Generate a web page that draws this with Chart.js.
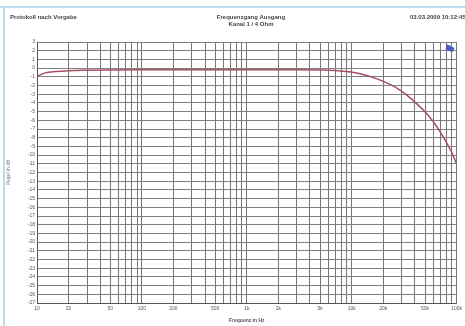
<!DOCTYPE html>
<html>
<head>
<meta charset="utf-8">
<script src="https://cdn.jsdelivr.net/npm/chart.js@4"></script>
<style>
html,body{margin:0;padding:0;background:#fff;}
#wrap{position:relative;width:465px;height:326px;overflow:hidden;background:#fff;}
#frameTop{position:absolute;left:0;top:6px;width:465px;height:2px;background:#bcdcee;}
#frameLeft{position:absolute;left:3px;top:6px;width:2px;height:320px;background:#bcdcee;}
canvas{position:absolute;left:0;top:0;}
</style>
</head>
<body>
<div id="wrap">
<canvas id="c" width="465" height="326"></canvas>
<div id="frameTop"></div><div id="frameLeft"></div>
</div>
<script>
// ---- data ----
const headerLeft = "Protokoll nach Vorgabe";
const headerTitle = ["Frequenzgang Ausgang", "Kanal 1 / 4 Ohm"];
const headerRight = "03.03.2009 10:12:45";
const xTitle = "Frequenz in Hz";
const yTitle = "Pegel in dB";
const freqHz = [10, 12, 15, 20, 30, 50, 100, 300, 1000, 3000, 6000, 9800, 12600, 18500, 27000, 38000, 56000, 73000, 90000, 100000];
const levelDb = [-0.95, -0.55, -0.4, -0.3, -0.25, -0.22, -0.2, -0.2, -0.2, -0.2, -0.25, -0.45, -0.7, -1.35, -2.3, -3.65, -5.7, -7.7, -9.7, -11.0];
const xLabelValues = [10, 20, 50, 100, 200, 500, 1000, 2000, 5000, 10000, 20000, 50000, 100000];
const xMin = 10, xMax = 100000;
const yMin = -27, yMax = 3, yStep = 1;

const points = freqHz.map((f, i) => ({x: f, y: levelDb[i]}));
function fmtHz(v) {
  if (v >= 1000) return (v / 1000) + "k";
  return String(v);
}

const headerPlugin = {
  id: 'header',
  afterDraw(chart) {
    const ctx = chart.ctx;
    ctx.save();
    ctx.fillStyle = '#444';
    ctx.font = 'bold 6px "Liberation Sans", Arial, sans-serif';
    ctx.textBaseline = 'middle';
    ctx.textAlign = 'left';
    ctx.fillText(headerLeft, 10, 17);
    ctx.textAlign = 'center';
    ctx.fillText(headerTitle[0], 251, 17);
    ctx.fillText(headerTitle[1], 251, 24);
    ctx.textAlign = 'left';
    ctx.fillText(headerRight, 410, 17);
    // logo in the plot corner
    const a = chart.chartArea;
    ctx.fillStyle = '#4b5fb5';
    ctx.beginPath();
    ctx.moveTo(a.right - 10, a.top + 2);
    ctx.lineTo(a.right - 2, a.top + 6);
    ctx.lineTo(a.right - 4, a.top + 10);
    ctx.lineTo(a.right - 11, a.top + 8);
    ctx.closePath();
    ctx.fill();
    ctx.restore();
  }
};

new Chart(document.getElementById('c'), {
  type: 'line',
  data: {
    datasets: [{
      data: points,
      borderColor: '#a4505f',
      borderWidth: 1.5,
      pointRadius: 0,
      tension: 0.4,
      cubicInterpolationMode: 'monotone',
      fill: false
    }]
  },
  options: {
    responsive: false,
    animation: false,
    devicePixelRatio: 1,
    layout: {padding: {left: 6, top: 42, right: 8, bottom: 0}},
    plugins: {legend: {display: false}, tooltip: {enabled: false}},
    scales: {
      x: {
        type: 'logarithmic',
        min: xMin, max: xMax,
        afterBuildTicks(s) {
          const t = [];
          for (let d = xMin; d < xMax; d *= 10) {
            for (let m = 1; m < 10; m++) t.push({value: d * m});
          }
          t.push({value: xMax});
          s.ticks = t;
        },
        afterFit(s) { s.height = 23; },
        grid: {color: '#767676', lineWidth: 1, drawTicks: false},
        border: {color: '#555', width: 1},
        ticks: {
          autoSkip: false, maxRotation: 0, padding: 3,
          font: {size: 5, family: 'Liberation Sans'}, color: '#555',
          callback(v) { return xLabelValues.includes(v) ? fmtHz(v) : ''; }
        },
        title: {display: true, text: xTitle, font: {size: 5, family: 'Liberation Sans', weight: 'bold'}, color: '#555', padding: {top: 0, bottom: 2}}
      },
      y: {
        min: yMin, max: yMax,
        afterBuildTicks(s) {
          const t = [];
          for (let v = yMin; v <= yMax; v += yStep) t.push({value: v});
          s.ticks = t;
        },
        afterFit(s) { s.width = 31; },
        grid: {color: '#808080', lineWidth: 1, drawTicks: false},
        border: {color: '#555', width: 1},
        ticks: {
          autoSkip: false, padding: 2,
          font: {size: 5, family: 'Liberation Sans'}, color: '#555'
        },
        title: {display: true, text: yTitle, font: {size: 5, family: 'Liberation Sans'}, color: '#777', padding: {top: 0, bottom: 4}}
      }
    }
  },
  plugins: [headerPlugin]
});
</script>
</body>
</html>
